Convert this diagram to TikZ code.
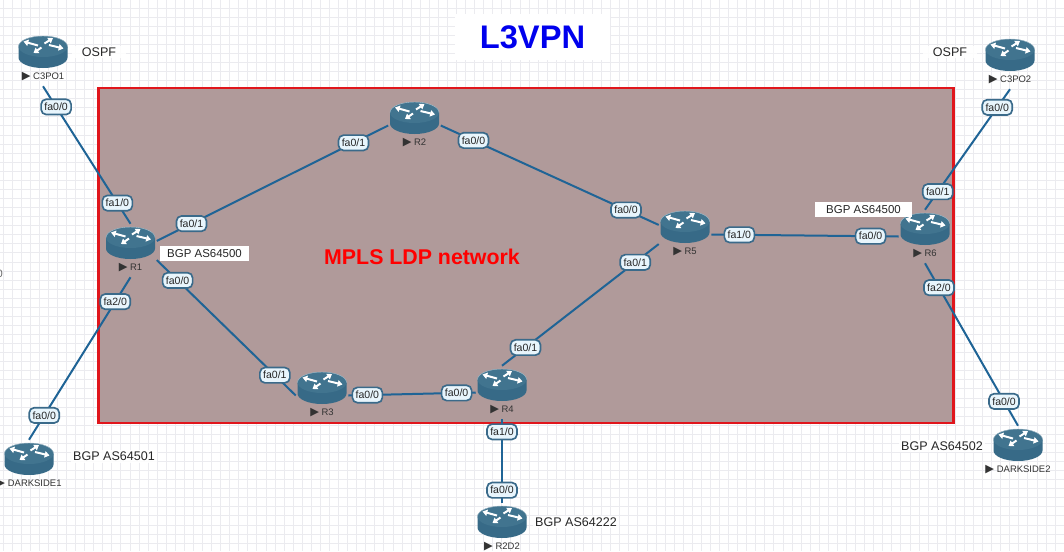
\documentclass[tikz,border=0pt]{standalone}
\usepackage{fontspec}
\setmainfont{Liberation Sans}
\newfontfamily\symfont{DejaVu Sans}
\usetikzlibrary{positioning, arrows.meta}
\definecolor{linkblue}{HTML}{1F6496}
\definecolor{routertop}{HTML}{41748F}
\definecolor{routerside}{HTML}{376A87}
\definecolor{pillline}{HTML}{3A6A8A}
\definecolor{pillfill}{HTML}{E8F5FC}
\definecolor{mplsfill}{HTML}{B09A9A}
\definecolor{mplsred}{HTML}{E0161C}
\definecolor{gridline}{HTML}{EBEBEF}
\tikzset{
  routerbox/.style={rectangle, minimum width=39pt, minimum height=39.75pt, inner sep=0pt},
  routername/.style={font=\fontsize{7.1}{8}\selectfont, text=black!80, inner sep=0pt},
  portlabel/.style={draw=pillline, line width=1.25pt, fill=pillfill, rounded corners=3.8pt, minimum width=22.5pt, minimum height=11.5pt, inner sep=0pt, font=\fontsize{7.9}{8}\selectfont, text=black!85},
  linkline/.style={linkblue, line width=1.5pt},
  routerarrow/.style={white, line width=1.5pt, -{Triangle[length=3.6pt, width=4.8pt]}},
  bgpwhite/.style={fill=white, inner sep=0pt, minimum height=11.25pt, font=\fontsize{8.6}{10}\selectfont, text=black!85},
  bgptext/.style={fill=white, fill opacity=0.85, text opacity=1, inner sep=1.5pt, font=\fontsize{9.4}{11}\selectfont, text=black!85},
}
% name, icon x, icon y, label
\newcommand{\routernode}[4]{%
  \node[routerbox] (#1) at (#2,#3+7.5) {};
  \begin{scope}[shift={(#2,#3)}]
    \fill[routerside] (-24.5,-5.5) arc[start angle=180, end angle=360, x radius=24.5, y radius=10.5] -- (24.5,5.5) arc[start angle=0, end angle=180, x radius=24.5, y radius=10.5] -- cycle;
    \fill[routertop] (0,-5.5) ellipse[x radius=24.5, y radius=10.5];
    \draw[white!60!routertop, line width=0.3pt] (-24.5,-5.5) arc[start angle=180, end angle=360, x radius=24.5, y radius=10.5];
    \draw[routerarrow] (-5,-6.5) -- (-19.5,-10.5);
    \draw[routerarrow] (6,-7) -- (20.5,-3.5);
    \draw[routerarrow] (1.5,-8.5) -- (10,-14);
    \draw[routerarrow] (-1.5,-4.5) -- (-9.5,1);
  \end{scope}
  \node[routername] (#1name) at (#2,#3+25) {{\symfont\fontsize{8.5}{8}\selectfont ▶}\hspace{2pt}#4};
}
% from, to, label at from, label at to
\newcommand{\routerlink}[4]{%
  \draw[linkline] (#1) -- node[portlabel, pos=0.15] {#3} node[portlabel, pos=0.85] {#4} (#2);
}
\begin{document}
\begin{tikzpicture}[x=0.75pt, y=-0.75pt]
  \useasboundingbox (0,0) rectangle (1064,551);
  \fill[white] (0,0) rectangle (1064,551);
  % background grid
  \foreach \gx in {3,12.07,...,1064} {\draw[gridline, line width=0.7pt] (\gx,0) -- (\gx,551);}
  \foreach \gy in {8,17.07,...,551} {\draw[gridline, line width=0.7pt] (0,\gy) -- (1064,\gy);}

  % Network area
  \node[draw=mplsred, line width=1.9pt, fill=mplsfill, minimum width=641pt, minimum height=251pt, inner sep=0pt] (area) at (526,255.5) {};
  \node[font=\fontsize{16}{18}\selectfont\bfseries, text=red, inner sep=0pt] (mpls) at (422,257) {MPLS LDP network};
  \node[fill=white, minimum width=116pt, minimum height=35pt, inner sep=0pt, font=\fontsize{24.5}{26}\selectfont\bfseries, text=blue!93!black] (title) at (532.5,37) {L3VPN};

  % Routers
  \routernode{c3poa}{43}{52}{C3PO1}
  \routernode{c3pob}{1010}{55}{C3PO2}
  \routernode{ra}{130.5}{243}{R1}
  \routernode{rb}{414.5}{118}{R2}
  \routernode{rc}{322}{388}{R3}
  \routernode{rd}{502}{385}{R4}
  \routernode{re}{685}{227}{R5}
  \routernode{rf}{925}{229}{R6}
  \routernode{darka}{29}{459}{DARKSIDE1}
  \routernode{darkb}{1018}{445}{DARKSIDE2}
  \routernode{rtwo}{502}{522}{R2D2}

  % Links
  \routerlink{c3poa.south}{ra.north}{fa0/0}{fa1/0}
  \routerlink{ra.20}{rb.west}{fa0/1}{fa0/1}
  \routerlink{ra.-20}{rc.west}{fa0/0}{fa0/1}
  \routerlink{ra.south}{darka.north}{fa2/0}{fa0/0}
  \routerlink{rb.east}{re.160}{fa0/0}{fa0/0}
  \routerlink{rc.east}{rd.west}{fa0/0}{fa0/0}
  \routerlink{rd.north}{re.200}{fa0/1}{fa0/1}
  \routerlink{rd.south}{rtwo.north}{fa1/0}{fa0/0}
  \routerlink{re.east}{rf.west}{fa1/0}{fa0/0}
  \routerlink{rf.north}{c3pob.south}{fa0/1}{fa0/0}
  \routerlink{rf.south}{darkb.north}{fa2/0}{fa0/0}

  % AS and IGP notes
  \node[bgpwhite, minimum width=66.75pt] (asa) at (204.5,253.5) {BGP AS64500};
  \node[bgpwhite, minimum width=72.75pt] (asb) at (863.5,209.5) {BGP AS64500};
  \node[bgptext] (asc) at (114,456.5) {BGP AS64501};
  \node[bgptext] (asd) at (942,446) {BGP AS64502};
  \node[bgptext] (ase) at (576,522) {BGP AS64222};
  \node[bgptext, minimum width=40pt] (ospfa) at (99,52) {OSPF};
  \node[bgptext, minimum width=40pt] (ospfb) at (950,52) {OSPF};
  \node[anchor=east, inner sep=0pt, font=\fontsize{8}{9}\selectfont, text=black!60] (stray) at (3,274) {0};
\end{tikzpicture}
\end{document}
